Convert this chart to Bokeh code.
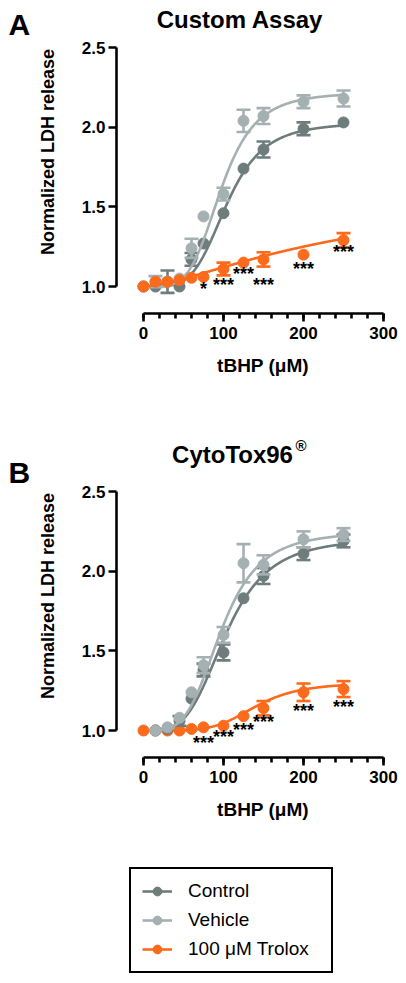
import numpy as np
from bokeh.plotting import figure
from bokeh.models import (Range1d, FixedTicker, PrintfTickFormatter, Label,
                          LinearAxis, Legend, LegendItem)
from bokeh.layouts import column
from bokeh.core.properties import value
from bokeh.embed import file_html
from bokeh.resources import INLINE

NAN = float("nan")

# ---------------- data ----------------
conc = [0, 15, 30, 45, 60, 75, 100, 125, 150, 200, 250]

a_control = [1.00, 1.00, 1.03, 1.00, 1.17, 1.27, 1.46, 1.74, 1.86, 1.99, 2.03]
a_control_err = [0.00, 0.01, 0.07, 0.01, 0.04, 0.01, 0.02, 0.01, 0.05, 0.04, 0.01]
a_vehicle = [1.00, 1.03, 1.03, 1.05, 1.24, 1.44, 1.58, 2.04, 2.07, 2.16, 2.18]
a_vehicle_err = [0.00, 0.035, 0.01, 0.01, 0.06, 0.01, 0.04, 0.07, 0.05, 0.04, 0.05]
a_trolox = [1.00, 1.03, 1.03, 1.04, 1.055, 1.06, 1.11, 1.15, 1.17, 1.20, 1.29]
a_trolox_err = [0.00, 0.01, 0.01, 0.01, 0.01, 0.01, 0.04, 0.01, 0.045, 0.01, 0.045]

b_control = [NAN, 1.00, 1.01, 1.06, 1.20, 1.38, 1.49, 1.83, 1.97, 2.11, 2.19]
b_control_err = [0.00, 0.01, 0.01, 0.03, 0.02, 0.04, 0.05, 0.01, 0.05, 0.04, 0.04]
b_vehicle = [NAN, 1.00, 1.02, 1.08, 1.24, 1.41, 1.60, 2.05, 2.04, 2.20, 2.23]
b_vehicle_err = [0.00, 0.01, 0.01, 0.02, 0.02, 0.05, 0.05, 0.12, 0.06, 0.05, 0.04]
b_trolox = [1.00, 1.00, 1.00, 1.00, 1.01, 1.02, 1.03, 1.09, 1.14, 1.24, 1.26]
b_trolox_err = [0.00, 0.00, 0.01, 0.01, 0.01, 0.01, 0.01, 0.01, 0.045, 0.055, 0.05]

# four-parameter fits (bottom, top, EC50, Hill slope, first x of the curve)
a_control_fit = [1.00, 2.03, 104, 4.5, 8]
a_vehicle_fit = [1.00, 2.22, 97, 4.5, 8]
a_trolox_fit = [1.00, 1.60, 250, 1.5, 0]
b_control_fit = [1.00, 2.21, 103, 3.8, 15]
b_vehicle_fit = [1.00, 2.25, 97, 4.0, 15]
b_trolox_fit = [1.00, 1.30, 140, 5.0, 25]

sig_x = [75, 100, 125, 150, 200, 250]
a_sig_text = ["*", "***", "***", "***", "***", "***"]
a_sig_y = [0.975, 1.006, 1.07, 1.006, 1.105, 1.21]
b_sig_text = ["***", "***", "***", "***", "***", "***"]
b_sig_y = [0.913, 0.955, 0.997, 1.049, 1.118, 1.143]

series_names = ["Control", "Vehicle", "100 μM Trolox"]
y_ticks = [1.0, 1.5, 2.0, 2.5]
x_ticks = [0, 100, 200, 300]

# ---------------- style / geometry ----------------
FONT = "Liberation Sans"
COLORS = ["#6f7c7c", "#a5b0b3", "#fc6a1b"]
LW = 2.6
PX_X = 0.8      # pixels per µM
PX_Y = 159.3    # pixels per unit of y
X0_PX = 143     # page column of x = 0
W = 406


def hill(x, bottom, top, ec50, h):
    x = np.maximum(np.asarray(x, dtype=float), 1e-6)
    return bottom + (top - bottom) / (1.0 + (ec50 / x) ** h)


def add_series(p, xs, ys, errs, fit, color):
    cx = np.linspace(fit[4], 250, 300)
    line = p.line(cx, hill(cx, *fit[:4]), line_color=color, line_width=LW)
    keep = [i for i, e in enumerate(errs) if e >= 0.03 and ys[i] == ys[i]]
    bx = [xs[i] for i in keep]
    lo = [ys[i] - errs[i] for i in keep]
    hi = [ys[i] + errs[i] for i in keep]
    p.segment(bx, lo, bx, hi, line_color=color, line_width=LW)
    p.scatter(bx + bx, lo + hi, marker="dash", size=14, line_color=color,
              line_width=LW)
    dots = p.scatter(xs, ys, marker="circle", size=11, fill_color=color,
                     line_color=color)
    return line, dots


def make_panel(top_px, height, one_px, data, order, title, letter, title_px,
               title_cy, letter_cy, sig_text, sig_y, reg_mark=False):
    # top_px: page row of the canvas top; one_px: page row of y = 1.0
    def yd(py):
        return 1 + (one_px - py) / PX_Y

    def xd(px):
        return (px - X0_PX) / PX_X

    p = figure(width=W, height=height, output_backend="svg",
               toolbar_location=None, x_range=Range1d(xd(0), xd(W)),
               y_range=Range1d(yd(top_px + height), yd(top_px)),
               x_axis_location=None, y_axis_location=None, min_border=0,
               min_border_left=0, min_border_right=0, min_border_top=0,
               min_border_bottom=0)
    p.outline_line_color = None
    p.xgrid.grid_line_color = None
    p.ygrid.grid_line_color = None

    renderers = {}
    for k in order:
        ys, errs, fit = data[k]
        renderers[k] = add_series(p, conc, ys, errs, fit, COLORS[k])

    p.text(x=sig_x, y=sig_y, text=sig_text, text_font=value(FONT),
           text_font_size="18px", text_font_style="bold", text_color="black",
           text_align="center", text_baseline="middle", y_offset=-1)

    xaxis = LinearAxis(fixed_location=yd(one_px + 27), bounds=(0, 300),
                       ticker=FixedTicker(ticks=x_ticks,
                                          minor_ticks=list(range(0, 301, 20))),
                       major_label_standoff=5)
    yaxis = LinearAxis(fixed_location=xd(116), bounds=(1.0, 2.5),
                       ticker=FixedTicker(ticks=y_ticks, minor_ticks=[]),
                       formatter=PrintfTickFormatter(format="%.1f"),
                       major_label_standoff=3)
    for ax in (xaxis, yaxis):
        ax.axis_line_width = LW
        ax.axis_line_color = "black"
        ax.major_tick_line_width = LW
        ax.minor_tick_line_width = LW
        ax.major_tick_line_color = "black"
        ax.minor_tick_line_color = "black"
        ax.major_tick_in = 0
        ax.minor_tick_in = 0
        ax.major_tick_out = 8
        ax.minor_tick_out = 5
        ax.major_label_text_font = FONT
        ax.major_label_text_font_size = "17px"
        ax.major_label_text_font_style = "bold"
        ax.major_label_text_color = "black"
    p.add_layout(xaxis, "below")
    p.add_layout(yaxis, "left")

    lab = dict(x_units="data", y_units="data", text_font=FONT,
               text_color="black", text_font_style="bold",
               text_baseline="middle")
    p.add_layout(Label(x=xd(47.5), y=yd(one_px - 134.5),
                       text="Normalized LDH release", angle=np.pi / 2,
                       text_align="center", text_font_size="18px", **lab))
    p.add_layout(Label(x=xd(262.5), y=yd(one_px + 79), text="tBHP (μM)",
                       text_align="center", text_font_size="19px", **lab))
    p.add_layout(Label(x=xd(title_px), y=yd(title_cy), text=title,
                       text_align="center", text_font_size="24px", **lab))
    if reg_mark:
        p.add_layout(Label(x=xd(295), y=yd(title_cy - 9), text="®",
                           text_align="left", text_font_size="15px", **lab))
    p.add_layout(Label(x=xd(8), y=yd(letter_cy), text=letter,
                       text_align="left", text_font_size="30px", **lab))
    return p, renderers


pa, _ = make_panel(0, 420, 286,
                   [(a_control, a_control_err, a_control_fit),
                    (a_vehicle, a_vehicle_err, a_vehicle_fit),
                    (a_trolox, a_trolox_err, a_trolox_fit)], [0, 1, 2],
                   "Custom Assay", "A", 239.5, 18.5, 24, a_sig_text, a_sig_y)
pb, rb = make_panel(420, 563, 730,
                    [(b_control, b_control_err, b_control_fit),
                     (b_vehicle, b_vehicle_err, b_vehicle_fit),
                     (b_trolox, b_trolox_err, b_trolox_fit)], [2, 0, 1],
                    "CytoTox96", "B", 232, 454, 472, b_sig_text, b_sig_y,
                    reg_mark=True)

items = [LegendItem(label=name, renderers=list(rb[k]))
         for k, name in enumerate(series_names)]
legend = Legend(items=items, location=(129, 10), border_line_color="black",
                border_line_alpha=1.0, border_line_width=2,
                background_fill_color="white", background_fill_alpha=1.0,
                label_text_font=FONT, label_text_font_size="19px",
                label_text_color="black", glyph_width=30, glyph_height=22,
                label_height=22, label_width=132, spacing=7, padding=11,
                label_standoff=16, margin=0)
pb.add_layout(legend)

layout = column(pa, pb, spacing=0)
open("out.html", "w").write(file_html(layout, INLINE))
